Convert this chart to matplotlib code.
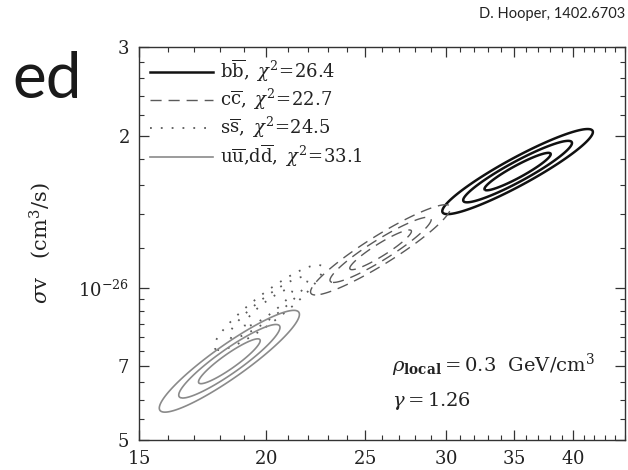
import numpy as np
import matplotlib
matplotlib.use("Agg")
import matplotlib.pyplot as plt
from matplotlib.lines import Line2D
from matplotlib.ticker import FixedLocator, FixedFormatter, NullFormatter

plt.rcParams['mathtext.fontset'] = 'dejavuserif'
plt.rcParams['font.family'] = ['DejaVu Serif']

# best-fit values (one entry per annihilation channel)
channels = [r'$\mathrm{b\overline{b}},\ \chi^2\!=\!26.4$',
            r'$\mathrm{c\overline{c}},\ \chi^2\!=\!22.7$',
            r'$\mathrm{s\overline{s}},\ \chi^2\!=\!24.5$',
            r'$\mathrm{u\overline{u}{,}d\overline{d}},\ \chi^2\!=\!33.1$']
best_mass = [35.3, 25.9, 20.1, 18.4]                 # GeV
best_sigv = [1.70e-26, 1.19e-26, 9.15e-27, 7.16e-27]  # cm^3/s
sig_logm = [0.0215, 0.020, 0.0155, 0.020]            # 1-sigma width, log10 mass
sig_logsv = [0.0245, 0.026, 0.0245, 0.0293]          # 1-sigma width, log10 sigma v
rho = [0.93, 0.93, 0.91, 0.92]                       # correlation
dchi2_levels = [2.3, 6.18, 11.83]

x_ticks = [15, 20, 25, 30, 35, 40]
y_ticks = [5e-27, 7e-27, 1e-26, 2e-26, 3e-26]
y_ticklabels = ['$5$', '$7$', '$10^{-26}$', '$2$', '$3$']

colors = ['#111111', '#5a5a5a', '#5a5a5a', '#8a8a8a']
widths = [1.8, 1.0, 1.3, 1.2]
styles = ['-', (0, (8, 5)), (0, (1, 5)), '-']

fig = plt.figure(figsize=(6.28, 4.70), dpi=100)
ax = fig.add_axes([0.2213, 0.0638, 0.7739, 0.8362])
ax.set_xscale('log')
ax.set_yscale('log')

lm = np.linspace(np.log10(14), np.log10(46), 500)
ls = np.linspace(np.log10(4.5e-27), np.log10(3.2e-26), 500)
LM, LS = np.meshgrid(lm, ls)
for i in range(len(channels)):
    dx = (LM - np.log10(best_mass[i])) / sig_logm[i]
    dy = (LS - np.log10(best_sigv[i])) / sig_logsv[i]
    chi2 = (dx**2 - 2 * rho[i] * dx * dy + dy**2) / (1 - rho[i]**2)
    cs = ax.contour(10**LM, 10**LS, chi2, levels=dchi2_levels,
                    colors=colors[i], linewidths=widths[i])
    cs.set_linestyle([styles[i]] * len(dchi2_levels))

ax.set_xlim(15, 45)
ax.set_ylim(5e-27, 3e-26)

ax.xaxis.set_major_locator(FixedLocator(x_ticks))
ax.xaxis.set_major_formatter(FixedFormatter(['$%d$' % v for v in x_ticks]))
ax.xaxis.set_minor_locator(FixedLocator([v for v in range(16, 46) if v not in x_ticks]))
ax.xaxis.set_minor_formatter(NullFormatter())
ax.yaxis.set_major_locator(FixedLocator(y_ticks))
ax.yaxis.set_major_formatter(FixedFormatter(y_ticklabels))
ax.yaxis.set_minor_locator(FixedLocator(
    [v * 1e-27 for v in [5.5, 6, 6.5, 7.5, 8, 8.5, 9, 9.5]] +
    [v * 1e-26 for v in [1.2, 1.4, 1.6, 1.8, 2.2, 2.4, 2.6, 2.8]]))
ax.yaxis.set_minor_formatter(NullFormatter())

ax.tick_params(which='both', direction='in', top=True, right=True,
               colors='#333333', labelcolor='#222222', labelsize=13)
ax.tick_params(which='major', length=7, width=0.9, pad=7)
ax.tick_params(which='minor', length=3.5, width=0.8)
for s in ax.spines.values():
    s.set_color('#333333')
    s.set_linewidth(1.0)

ax.set_ylabel(r'$\sigma\mathrm{v}\ \ \ (\mathrm{cm}^3/\mathrm{s})$', fontsize=15,
              color='#222222', labelpad=18)

handles = [Line2D([], [], color=colors[i], lw=widths[i], linestyle=styles[i])
           for i in range(len(channels))]
ax.legend(handles, channels, loc='upper left', frameon=False, fontsize=13,
          handlelength=3.5, handletextpad=0.4, labelspacing=0.15,
          borderaxespad=0.3, borderpad=0.3, labelcolor='#222222')

ax.text(0.52, 0.19, r'$\rho_{\mathbf{local}}=0.3\ \ \mathrm{GeV/cm}^3$',
        transform=ax.transAxes, fontsize=14, color='#222222', va='center')
ax.text(0.52, 0.10, r'$\gamma=1.26$', transform=ax.transAxes,
        fontsize=14, color='#222222', va='center')

fig.text(82 / 628, 1 - 80 / 470, 'ed', fontsize=46, family='Lato',
         ha='right', va='center', color='#1a1a1a')
fig.text(625 / 628, 1 - 14 / 470, 'D. Hooper, 1402.6703', fontsize=10.5,
         family='Lato', ha='right', va='center', color='#222222')

fig.savefig('out.png', dpi=100)
